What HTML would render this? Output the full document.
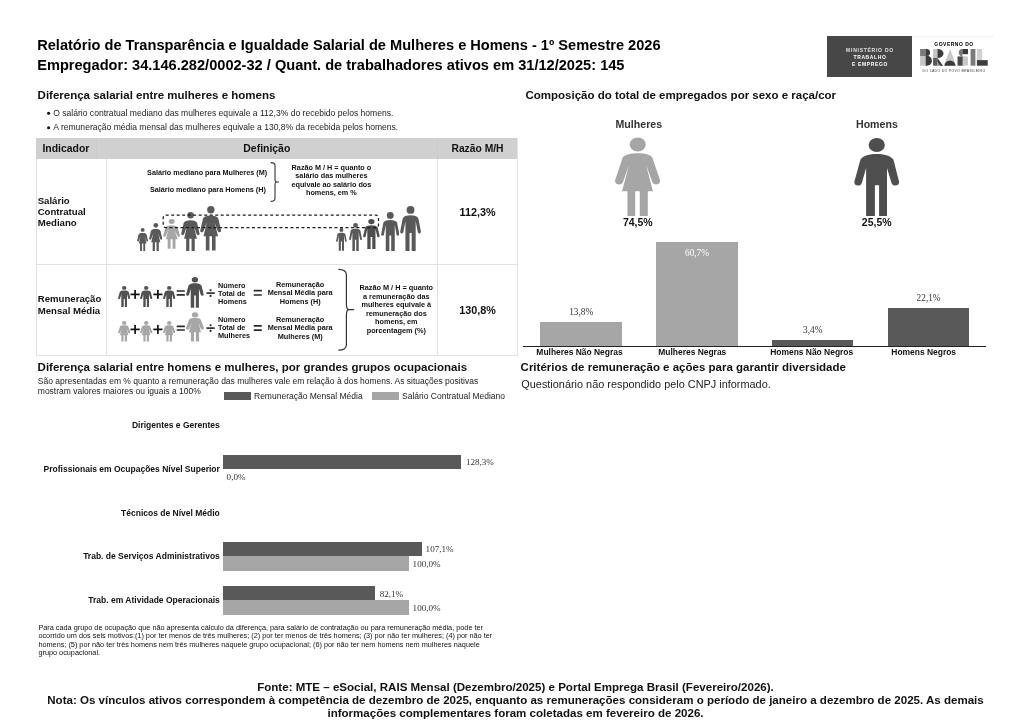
<!DOCTYPE html>
<html lang="pt-BR"><head><meta charset="utf-8"><title>Relatório de Transparência e Igualdade Salarial</title>
<style>
html,body{margin:0;padding:0;background:#fff;}
body{width:1024px;height:724px;position:relative;overflow:hidden;filter:grayscale(1);font-family:"Liberation Sans",Arial,sans-serif;}
.t{position:absolute;white-space:nowrap;}
.r{position:absolute;display:block;}
</style></head><body>
<div class="t" style="top:37.00px;font-size:14.6px;line-height:16.79px;font-weight:700;color:#000;font-family:'Liberation Sans', Arial, sans-serif;left:37.20px;">Relatório de Transparência e Igualdade Salarial de Mulheres e Homens - 1º Semestre 2026</div>
<div class="t" style="top:57.00px;font-size:14.6px;line-height:16.79px;font-weight:700;color:#000;font-family:'Liberation Sans', Arial, sans-serif;left:37.20px;">Empregador: 34.146.282/0002-32 / Quant. de trabalhadores ativos em 31/12/2025: 145</div>
<div class="r" style="left:827px;top:36px;width:85px;height:41px;background:#474747;"></div>
<div class="t" style="left:827px;top:47.1px;width:86px;text-align:center;color:#e0e0e0;font-size:5px;line-height:6.8px;letter-spacing:0.75px;font-weight:700">MINISTÉRIO DO</div>
<div class="t" style="left:827px;top:53.8px;width:86px;text-align:center;color:#fff;font-size:5px;line-height:6.8px;letter-spacing:0.62px;font-weight:700">TRABALHO</div>
<div class="t" style="left:827px;top:60.6px;width:86px;text-align:center;color:#fff;font-size:5px;line-height:6.8px;letter-spacing:0.62px;font-weight:700">E EMPREGO</div>
<div class="r" style="left:912px;top:36px;width:82px;height:1px;background:#f2f2f2;"></div>
<div class="t" style="left:913px;top:40.6px;width:82px;text-align:center;color:#000;font-size:5px;line-height:6.4px;letter-spacing:0.5px;font-weight:700">GOVERNO DO</div>
<svg class="r" style="left:916px;top:46px;width:76px;height:22px" viewBox="0 0 76 22">
<rect x="4.1" y="3" width="5.6" height="7" fill="#7a7a7a"/>
<rect x="4.1" y="10" width="5.6" height="9.7" fill="#c4c4c4"/>
<path d="M9.6 3H10.6A3.5 3.5 0 0 1 10.6 10H9.6Z" fill="#3a3a3a"/>
<path d="M9.6 9.7H11A4.9 5 0 0 1 11 19.7H9.6Z" fill="#3a3a3a"/>
<rect x="17.1" y="3" width="4.4" height="9" fill="#c4c4c4"/>
<path d="M21.5 3A6 4.6 0 0 1 27.5 7.6A6 4.6 0 0 1 21.5 12.2Z" fill="#3a3a3a"/>
<rect x="17.1" y="12" width="4.4" height="7.7" fill="#5a5a5a"/>
<path d="M21.5 12.2L26.9 19.7H21.5Z" fill="#8a8a8a"/>
<path d="M21.5 12.2L26.9 19.7H24.5L21.5 15.5Z" fill="#3a3a3a"/>
<path d="M27.5 19.7L34.2 3L40.1 19.7Z" fill="#c8c8c8"/>
<path d="M28.6 19.7A5.4 5.2 0 0 1 39.4 19.7Z" fill="#3a3a3a"/>
<path d="M46.4 3V10.2A3.6 3.6 0 0 1 46.4 3Z" fill="#7a7a7a"/>
<rect x="46.4" y="3" width="5.6" height="5.2" fill="#3a3a3a"/>
<path d="M41.5 10.4H46.9V19.7H41.5Z" fill="#4a4a4a"/>
<path d="M46.9 10.4A5 4.65 0 0 1 46.9 19.7Z" fill="#c8c8c8"/>
<rect x="46.9" y="10.4" width="5.1" height="9.3" fill="#cfcfcf"/>
<path d="M46.9 10.4A5 4.65 0 0 1 46.9 19.7Z" fill="#c8c8c8"/>
<rect x="54.6" y="3" width="4.8" height="16.7" fill="#7a7a7a"/>
<rect x="60.9" y="3" width="5.2" height="11.1" fill="#d0d0d0"/>
<rect x="60.9" y="14.1" width="10.8" height="5.6" fill="#3c3c3c"/>
</svg>
<div class="t" style="left:913px;top:68.6px;width:82px;text-align:center;color:#444;font-size:3.5px;line-height:5px;letter-spacing:0.3px;font-weight:400">DO LADO DO POVO BRASILEIRO</div>
<div class="t" style="top:89.00px;font-size:11.5px;line-height:13.225px;font-weight:700;color:#111;font-family:'Liberation Sans', Arial, sans-serif;left:37.60px;">Diferença salarial entre mulheres e homens</div>
<svg class="r" style="left:40px;top:105px" width="20" height="30"><circle cx="8.6" cy="8.3" r="1.55" fill="#111"/><circle cx="8.6" cy="22.7" r="1.55" fill="#111"/></svg>
<div class="t" style="top:109.00px;font-size:8.55px;line-height:9.8325px;font-weight:400;color:#222;font-family:'Liberation Sans', Arial, sans-serif;left:53.30px;">O salário contratual mediano das mulheres equivale a 112,3% do recebido pelos homens.</div>
<div class="t" style="top:123.00px;font-size:8.55px;line-height:9.8325px;font-weight:400;color:#222;font-family:'Liberation Sans', Arial, sans-serif;left:53.30px;">A remuneração média mensal das mulheres equivale a 130,8% da recebida pelos homens.</div>
<div class="r" style="left:36px;top:138px;width:481.5px;height:20.8px;background:#d0d0d0;"></div>
<div class="r" style="left:96px;top:138px;width:0.8px;height:20.8px;background:#cbcbcb;"></div>
<div class="r" style="left:437.2px;top:138px;width:0.8px;height:20.8px;background:#cbcbcb;"></div>
<div class="r" style="left:35.6px;top:158.8px;width:1px;height:197px;background:#e2e2e2;"></div>
<div class="r" style="left:516.8px;top:138px;width:1px;height:217.8px;background:#e2e2e2;"></div>
<div class="r" style="left:105.6px;top:158.8px;width:1px;height:197px;background:#e2e2e2;"></div>
<div class="r" style="left:437.2px;top:158.8px;width:1px;height:197px;background:#e2e2e2;"></div>
<div class="r" style="left:35.6px;top:264.1px;width:482px;height:1px;background:#e2e2e2;"></div>
<div class="r" style="left:35.6px;top:354.9px;width:482px;height:1px;background:#e2e2e2;"></div>
<div class="t" style="top:143.00px;font-size:10.45px;line-height:12.017499999999998px;font-weight:700;color:#111;font-family:'Liberation Sans', Arial, sans-serif;left:42.40px;">Indicador</div>
<div class="t" style="top:143.00px;font-size:10.45px;line-height:12.017499999999998px;font-weight:700;color:#111;font-family:'Liberation Sans', Arial, sans-serif;left:-33.20px;width:600px;text-align:center;">Definição</div>
<div class="t" style="top:143.00px;font-size:10.3px;line-height:11.845px;font-weight:700;color:#111;font-family:'Liberation Sans', Arial, sans-serif;left:177.50px;width:600px;text-align:center;">Razão M/H</div>
<div class="t" style="top:195.00px;font-size:9.6px;line-height:11.2px;font-weight:700;color:#111;font-family:'Liberation Sans', Arial, sans-serif;left:37.70px;">Salário<br>Contratual<br>Mediano</div>
<div class="t" style="top:293.00px;font-size:9.6px;line-height:11.5px;font-weight:700;color:#111;font-family:'Liberation Sans', Arial, sans-serif;left:37.80px;">Remuneração<br>Mensal Média</div>
<div class="t" style="top:206.00px;font-size:10.8px;line-height:12.42px;font-weight:700;color:#111;font-family:'Liberation Sans', Arial, sans-serif;left:177.60px;width:600px;text-align:center;">112,3%</div>
<div class="t" style="top:304.00px;font-size:10.8px;line-height:12.42px;font-weight:700;color:#111;font-family:'Liberation Sans', Arial, sans-serif;left:177.60px;width:600px;text-align:center;">130,8%</div>
<div class="t" style="top:169.00px;font-size:7.25px;line-height:8.337499999999999px;font-weight:700;color:#111;font-family:'Liberation Sans', Arial, sans-serif;left:-92.90px;width:600px;text-align:center;">Salário mediano para Mulheres (M)</div>
<div class="t" style="top:186.00px;font-size:7.25px;line-height:8.337499999999999px;font-weight:700;color:#111;font-family:'Liberation Sans', Arial, sans-serif;left:-92.10px;width:600px;text-align:center;">Salário mediano para Homens (H)</div>
<svg class="r" style="left:268px;top:160px;width:14px;height:45px" viewBox="0 0 14 45"><path d="M2.6 2.6Q7 2.6 7 5.5V19Q7 22 8.5 22H11M8.5 22Q7 22 7 25V38.5Q7 41.4 2.6 41.4" fill="none" stroke="#333" stroke-width="1.1"/></svg>
<div class="t" style="top:164.00px;font-size:7.25px;line-height:8.4px;font-weight:700;color:#111;font-family:'Liberation Sans', Arial, sans-serif;left:31.40px;width:600px;text-align:center;">Razão M / H = quanto o<br>salário das mulheres<br>equivale ao salário dos<br>homens, em %</div>
<svg class="r" style="left:136.60px;top:228.10px;width:11.20px;height:22.90px" viewBox="0 0 21.2 44.4" preserveAspectRatio="none"><g fill="#595959"><circle cx="10.8" cy="3.7" r="3.7"/><path d="M3.5 30.3L6.8 16L3.6 25Q3.2 26.4 1.8 26.3Q-0.1 26 0.3 24.3L3 12.5C3.8 10.4 6.8 9.5 10.6 9.5C14.4 9.5 17.4 10.4 18.2 12.5L20.9 24.3Q21.3 26 19.4 26.3Q18 26.4 17.6 25L14.4 16L18 30.3H15.5V44.4H11.9V30.3H9.4V44.4H5.8V30.3Z"/></g></svg>
<svg class="r" style="left:149.00px;top:222.80px;width:13.40px;height:28.20px" viewBox="0 0 21.2 44.4" preserveAspectRatio="none"><g fill="#595959"><circle cx="10.8" cy="3.7" r="3.7"/><path d="M3.5 30.3L6.8 16L3.6 25Q3.2 26.4 1.8 26.3Q-0.1 26 0.3 24.3L3 12.5C3.8 10.4 6.8 9.5 10.6 9.5C14.4 9.5 17.4 10.4 18.2 12.5L20.9 24.3Q21.3 26 19.4 26.3Q18 26.4 17.6 25L14.4 16L18 30.3H15.5V44.4H11.9V30.3H9.4V44.4H5.8V30.3Z"/></g></svg>
<svg class="r" style="left:163.20px;top:218.75px;width:17.10px;height:29.85px" viewBox="0 0 21.2 44.4" preserveAspectRatio="none"><g fill="#a6a6a6"><circle cx="10.8" cy="3.7" r="3.7"/><path d="M3.5 30.3L6.8 16L3.6 25Q3.2 26.4 1.8 26.3Q-0.1 26 0.3 24.3L3 12.5C3.8 10.4 6.8 9.5 10.6 9.5C14.4 9.5 17.4 10.4 18.2 12.5L20.9 24.3Q21.3 26 19.4 26.3Q18 26.4 17.6 25L14.4 16L18 30.3H15.5V44.4H11.9V30.3H9.4V44.4H5.8V30.3Z"/></g></svg>
<svg class="r" style="left:181.00px;top:211.90px;width:18.80px;height:39.10px" viewBox="0 0 21.2 44.4" preserveAspectRatio="none"><g fill="#595959"><circle cx="10.8" cy="3.7" r="3.7"/><path d="M3.5 30.3L6.8 16L3.6 25Q3.2 26.4 1.8 26.3Q-0.1 26 0.3 24.3L3 12.5C3.8 10.4 6.8 9.5 10.6 9.5C14.4 9.5 17.4 10.4 18.2 12.5L20.9 24.3Q21.3 26 19.4 26.3Q18 26.4 17.6 25L14.4 16L18 30.3H15.5V44.4H11.9V30.3H9.4V44.4H5.8V30.3Z"/></g></svg>
<svg class="r" style="left:200.40px;top:206.40px;width:21.30px;height:44.50px" viewBox="0 0 21.2 44.4" preserveAspectRatio="none"><g fill="#595959"><circle cx="10.8" cy="3.7" r="3.7"/><path d="M3.5 30.3L6.8 16L3.6 25Q3.2 26.4 1.8 26.3Q-0.1 26 0.3 24.3L3 12.5C3.8 10.4 6.8 9.5 10.6 9.5C14.4 9.5 17.4 10.4 18.2 12.5L20.9 24.3Q21.3 26 19.4 26.3Q18 26.4 17.6 25L14.4 16L18 30.3H15.5V44.4H11.9V30.3H9.4V44.4H5.8V30.3Z"/></g></svg>
<svg class="r" style="left:336.30px;top:228.30px;width:10.80px;height:22.70px" viewBox="0 0 21.0 45.0" preserveAspectRatio="none"><g fill="#595959"><circle cx="10.5" cy="3.9" r="3.9"/><path d="M5.4 45V15L3.3 26.3Q3 27.5 1.7 27.4Q0 27.2 0.2 25.6L2.7 12.4C3.6 10.3 6.5 9.3 10.5 9.3C14.5 9.3 17.4 10.3 18.3 12.4L20.8 25.6Q21 27.2 19.3 27.4Q18 27.5 17.7 26.3L15.6 15V45H11.6V27H9.5V45Z"/></g></svg>
<svg class="r" style="left:348.60px;top:223.00px;width:13.10px;height:28.00px" viewBox="0 0 21.0 45.0" preserveAspectRatio="none"><g fill="#595959"><circle cx="10.5" cy="3.9" r="3.9"/><path d="M5.4 45V15L3.3 26.3Q3 27.5 1.7 27.4Q0 27.2 0.2 25.6L2.7 12.4C3.6 10.3 6.5 9.3 10.5 9.3C14.5 9.3 17.4 10.3 18.3 12.4L20.8 25.6Q21 27.2 19.3 27.4Q18 27.5 17.7 26.3L15.6 15V45H11.6V27H9.5V45Z"/></g></svg>
<svg class="r" style="left:363.00px;top:218.75px;width:16.80px;height:30.05px" viewBox="0 0 21.0 45.0" preserveAspectRatio="none"><g fill="#4e4e4e"><circle cx="10.5" cy="3.9" r="3.9"/><path d="M5.4 45V15L3.3 26.3Q3 27.5 1.7 27.4Q0 27.2 0.2 25.6L2.7 12.4C3.6 10.3 6.5 9.3 10.5 9.3C14.5 9.3 17.4 10.3 18.3 12.4L20.8 25.6Q21 27.2 19.3 27.4Q18 27.5 17.7 26.3L15.6 15V45H11.6V27H9.5V45Z"/></g></svg>
<svg class="r" style="left:380.80px;top:212.00px;width:18.50px;height:39.00px" viewBox="0 0 21.0 45.0" preserveAspectRatio="none"><g fill="#595959"><circle cx="10.5" cy="3.9" r="3.9"/><path d="M5.4 45V15L3.3 26.3Q3 27.5 1.7 27.4Q0 27.2 0.2 25.6L2.7 12.4C3.6 10.3 6.5 9.3 10.5 9.3C14.5 9.3 17.4 10.3 18.3 12.4L20.8 25.6Q21 27.2 19.3 27.4Q18 27.5 17.7 26.3L15.6 15V45H11.6V27H9.5V45Z"/></g></svg>
<svg class="r" style="left:400.10px;top:206.20px;width:21.10px;height:45.00px" viewBox="0 0 21.0 45.0" preserveAspectRatio="none"><g fill="#595959"><circle cx="10.5" cy="3.9" r="3.9"/><path d="M5.4 45V15L3.3 26.3Q3 27.5 1.7 27.4Q0 27.2 0.2 25.6L2.7 12.4C3.6 10.3 6.5 9.3 10.5 9.3C14.5 9.3 17.4 10.3 18.3 12.4L20.8 25.6Q21 27.2 19.3 27.4Q18 27.5 17.7 26.3L15.6 15V45H11.6V27H9.5V45Z"/></g></svg>
<svg class="r" style="left:160px;top:212px;width:222px;height:19px" viewBox="0 0 222 19"><rect x="3.2" y="3.1" width="215.3" height="12.5" rx="2.5" fill="none" stroke="#1c1c1c" stroke-width="1.25" stroke-dasharray="3 2.5"/></svg>
<svg class="r" style="left:117.50px;top:285.50px;width:12.40px;height:21.50px" viewBox="0 0 45.4 78.1" preserveAspectRatio="none"><g fill="#525252"><ellipse cx="22.75" cy="7.0" rx="8.1" ry="7.0"/><path d="M12.1 78.1V30.1L8 44.5Q7.2 47.6 4.2 47.6Q0 47.4 0.4 43.6L6.4 21.7C9 17.5 16 16 22.75 16C29.5 16 36.5 17.5 39.5 21.7L45 43.6Q45.4 47.4 41.2 47.6Q38.2 47.6 37.4 44.5L33 30.1V78.1H25.1V47.2H20.9V78.1Z"/></g></svg>
<svg class="r" style="left:140.40px;top:285.50px;width:12.40px;height:21.50px" viewBox="0 0 45.4 78.1" preserveAspectRatio="none"><g fill="#525252"><ellipse cx="22.75" cy="7.0" rx="8.1" ry="7.0"/><path d="M12.1 78.1V30.1L8 44.5Q7.2 47.6 4.2 47.6Q0 47.4 0.4 43.6L6.4 21.7C9 17.5 16 16 22.75 16C29.5 16 36.5 17.5 39.5 21.7L45 43.6Q45.4 47.4 41.2 47.6Q38.2 47.6 37.4 44.5L33 30.1V78.1H25.1V47.2H20.9V78.1Z"/></g></svg>
<svg class="r" style="left:163.00px;top:285.50px;width:12.40px;height:21.50px" viewBox="0 0 45.4 78.1" preserveAspectRatio="none"><g fill="#525252"><ellipse cx="22.75" cy="7.0" rx="8.1" ry="7.0"/><path d="M12.1 78.1V30.1L8 44.5Q7.2 47.6 4.2 47.6Q0 47.4 0.4 43.6L6.4 21.7C9 17.5 16 16 22.75 16C29.5 16 36.5 17.5 39.5 21.7L45 43.6Q45.4 47.4 41.2 47.6Q38.2 47.6 37.4 44.5L33 30.1V78.1H25.1V47.2H20.9V78.1Z"/></g></svg>
<svg class="r" style="left:185.90px;top:277.00px;width:17.80px;height:30.70px" viewBox="0 0 45.4 78.1" preserveAspectRatio="none"><g fill="#505050"><ellipse cx="22.75" cy="7.0" rx="8.1" ry="7.0"/><path d="M12.1 78.1V30.1L8 44.5Q7.2 47.6 4.2 47.6Q0 47.4 0.4 43.6L6.4 21.7C9 17.5 16 16 22.75 16C29.5 16 36.5 17.5 39.5 21.7L45 43.6Q45.4 47.4 41.2 47.6Q38.2 47.6 37.4 44.5L33 30.1V78.1H25.1V47.2H20.9V78.1Z"/></g></svg>
<div class="t" style="top:282.00px;font-size:7.3px;line-height:8.2px;font-weight:700;color:#111;font-family:'Liberation Sans', Arial, sans-serif;left:218.00px;">Número<br>Total de<br>Homens</div>
<div class="t" style="top:281.00px;font-size:7.3px;line-height:8.3px;font-weight:700;color:#111;font-family:'Liberation Sans', Arial, sans-serif;left:0.20px;width:600px;text-align:center;">Remuneração<br>Mensal Média para<br>Homens (H)</div>
<svg class="r" style="left:117.50px;top:321.00px;width:12.40px;height:20.60px" viewBox="0 0 45.3 78.9" preserveAspectRatio="none"><g fill="#a6a6a6"><ellipse cx="22.75" cy="7.45" rx="8.05" ry="7.05"/><path d="M7 54.3L14.2 27.4L8.2 44.5Q7.3 47.4 4.2 47.4Q-0.2 47.2 0 43.6L7.8 20.3C10.5 17.3 16 16.2 22.75 16.2C29.5 16.2 35 17.3 37.2 20.3L45.2 43.6Q45.4 47.2 41.1 47.4Q38 47.4 37.1 44.5L31 27.4L37.9 54.3H32.8V78.9H24.8V54.3H20.2V78.9H12.4V54.3Z"/></g></svg>
<svg class="r" style="left:140.40px;top:321.00px;width:12.40px;height:20.60px" viewBox="0 0 45.3 78.9" preserveAspectRatio="none"><g fill="#a6a6a6"><ellipse cx="22.75" cy="7.45" rx="8.05" ry="7.05"/><path d="M7 54.3L14.2 27.4L8.2 44.5Q7.3 47.4 4.2 47.4Q-0.2 47.2 0 43.6L7.8 20.3C10.5 17.3 16 16.2 22.75 16.2C29.5 16.2 35 17.3 37.2 20.3L45.2 43.6Q45.4 47.2 41.1 47.4Q38 47.4 37.1 44.5L31 27.4L37.9 54.3H32.8V78.9H24.8V54.3H20.2V78.9H12.4V54.3Z"/></g></svg>
<svg class="r" style="left:163.00px;top:321.00px;width:12.40px;height:20.60px" viewBox="0 0 45.3 78.9" preserveAspectRatio="none"><g fill="#a6a6a6"><ellipse cx="22.75" cy="7.45" rx="8.05" ry="7.05"/><path d="M7 54.3L14.2 27.4L8.2 44.5Q7.3 47.4 4.2 47.4Q-0.2 47.2 0 43.6L7.8 20.3C10.5 17.3 16 16.2 22.75 16.2C29.5 16.2 35 17.3 37.2 20.3L45.2 43.6Q45.4 47.2 41.1 47.4Q38 47.4 37.1 44.5L31 27.4L37.9 54.3H32.8V78.9H24.8V54.3H20.2V78.9H12.4V54.3Z"/></g></svg>
<svg class="r" style="left:185.60px;top:312.20px;width:18.00px;height:29.40px" viewBox="0 0 45.3 78.9" preserveAspectRatio="none"><g fill="#a6a6a6"><ellipse cx="22.75" cy="7.45" rx="8.05" ry="7.05"/><path d="M7 54.3L14.2 27.4L8.2 44.5Q7.3 47.4 4.2 47.4Q-0.2 47.2 0 43.6L7.8 20.3C10.5 17.3 16 16.2 22.75 16.2C29.5 16.2 35 17.3 37.2 20.3L45.2 43.6Q45.4 47.2 41.1 47.4Q38 47.4 37.1 44.5L31 27.4L37.9 54.3H32.8V78.9H24.8V54.3H20.2V78.9H12.4V54.3Z"/></g></svg>
<div class="t" style="top:316.00px;font-size:7.3px;line-height:8.2px;font-weight:700;color:#111;font-family:'Liberation Sans', Arial, sans-serif;left:218.00px;">Número<br>Total de<br>Mulheres</div>
<div class="t" style="top:316.00px;font-size:7.3px;line-height:8.3px;font-weight:700;color:#111;font-family:'Liberation Sans', Arial, sans-serif;left:0.20px;width:600px;text-align:center;">Remuneração<br>Mensal Média para<br>Mulheres (M)</div>
<svg class="r" style="left:0;top:0" width="1024" height="724" viewBox="0 0 1024 724"><rect x="130.50" y="293.55" width="9.2" height="1.7" fill="#111"/><rect x="134.25" y="289.90" width="1.7" height="9.0" fill="#111"/><rect x="153.30" y="293.55" width="9.2" height="1.7" fill="#111"/><rect x="157.05" y="289.90" width="1.7" height="9.0" fill="#111"/><rect x="176.60" y="290.15" width="8.30" height="1.7" rx="0.5" fill="#2a2a2a"/><rect x="176.60" y="293.95" width="8.30" height="1.7" rx="0.5" fill="#2a2a2a"/><rect x="206.45" y="292.30" width="8.3" height="1.6" fill="#222"/><circle cx="210.60" cy="290.30" r="1.05" fill="#222"/><circle cx="210.60" cy="295.90" r="1.05" fill="#222"/><rect x="253.70" y="289.85" width="8.20" height="1.7" rx="0.5" fill="#2a2a2a"/><rect x="253.70" y="294.15" width="8.20" height="1.7" rx="0.5" fill="#2a2a2a"/><rect x="130.50" y="328.55" width="9.2" height="1.7" fill="#111"/><rect x="134.25" y="324.90" width="1.7" height="9.0" fill="#111"/><rect x="153.30" y="328.55" width="9.2" height="1.7" fill="#111"/><rect x="157.05" y="324.90" width="1.7" height="9.0" fill="#111"/><rect x="176.60" y="325.45" width="8.30" height="1.7" rx="0.5" fill="#2a2a2a"/><rect x="176.60" y="329.15" width="8.30" height="1.7" rx="0.5" fill="#2a2a2a"/><rect x="206.45" y="327.30" width="8.3" height="1.6" fill="#222"/><circle cx="210.60" cy="325.30" r="1.05" fill="#222"/><circle cx="210.60" cy="330.90" r="1.05" fill="#222"/><rect x="253.70" y="324.95" width="8.20" height="1.7" rx="0.5" fill="#2a2a2a"/><rect x="253.70" y="329.25" width="8.20" height="1.7" rx="0.5" fill="#2a2a2a"/></svg>
<svg class="r" style="left:336px;top:266px;width:22px;height:88px" viewBox="0 0 22 88"><path d="M2.4 3.4Q10.4 3.4 10.4 9V38Q10.4 43.7 13 43.7H18.2M13 43.7Q10.4 43.7 10.4 49.4V78.4Q10.4 84.2 2.4 84.2" fill="none" stroke="#333" stroke-width="1.2"/></svg>
<div class="t" style="top:284.00px;font-size:7.3px;line-height:8.5px;font-weight:700;color:#111;font-family:'Liberation Sans', Arial, sans-serif;left:96.30px;width:600px;text-align:center;">Razão M / H = quanto<br>a remuneração das<br>mulheres equivale à<br>remuneração dos<br>homens, em<br>porcentagem (%)</div>
<div class="t" style="top:89.00px;font-size:11.5px;line-height:13.225px;font-weight:700;color:#111;font-family:'Liberation Sans', Arial, sans-serif;left:525.50px;">Composição do total de empregados por sexo e raça/cor</div>
<div class="t" style="top:118.00px;font-size:10.6px;line-height:12.19px;font-weight:700;color:#333;font-family:'Liberation Sans', Arial, sans-serif;left:338.80px;width:600px;text-align:center;">Mulheres</div>
<div class="t" style="top:118.00px;font-size:10.6px;line-height:12.19px;font-weight:700;color:#333;font-family:'Liberation Sans', Arial, sans-serif;left:576.90px;width:600px;text-align:center;">Homens</div>
<svg class="r" style="left:615.20px;top:137.30px;width:45.30px;height:78.90px" viewBox="0 0 45.3 78.9" preserveAspectRatio="none"><g fill="#a6a6a6"><ellipse cx="22.75" cy="7.45" rx="8.05" ry="7.05"/><path d="M7 54.3L14.2 27.4L8.2 44.5Q7.3 47.4 4.2 47.4Q-0.2 47.2 0 43.6L7.8 20.3C10.5 17.3 16 16.2 22.75 16.2C29.5 16.2 35 17.3 37.2 20.3L45.2 43.6Q45.4 47.2 41.1 47.4Q38 47.4 37.1 44.5L31 27.4L37.9 54.3H32.8V78.9H24.8V54.3H20.2V78.9H12.4V54.3Z"/></g></svg>
<svg class="r" style="left:854.20px;top:137.60px;width:45.40px;height:78.10px" viewBox="0 0 45.4 78.1" preserveAspectRatio="none"><g fill="#4e4e4e"><ellipse cx="22.75" cy="7.0" rx="8.1" ry="7.0"/><path d="M12.1 78.1V30.1L8 44.5Q7.2 47.6 4.2 47.6Q0 47.4 0.4 43.6L6.4 21.7C9 17.5 16 16 22.75 16C29.5 16 36.5 17.5 39.5 21.7L45 43.6Q45.4 47.4 41.2 47.6Q38.2 47.6 37.4 44.5L33 30.1V78.1H25.1V47.2H20.9V78.1Z"/></g></svg>
<div class="t" style="top:216.00px;font-size:10.5px;line-height:12.075px;font-weight:700;color:#111;font-family:'Liberation Sans', Arial, sans-serif;left:337.80px;width:600px;text-align:center;">74,5%</div>
<div class="t" style="top:216.00px;font-size:10.5px;line-height:12.075px;font-weight:700;color:#111;font-family:'Liberation Sans', Arial, sans-serif;left:576.70px;width:600px;text-align:center;">25,5%</div>
<div class="r" style="left:540.3px;top:322.0px;width:81.7px;height:24.3px;background:#a6a6a6;"></div>
<div class="r" style="left:656.4px;top:242.0px;width:81.2px;height:104.3px;background:#a6a6a6;"></div>
<div class="r" style="left:772.2px;top:339.7px;width:81.2px;height:6.6px;background:#595959;"></div>
<div class="r" style="left:888.2px;top:307.7px;width:80.8px;height:38.6px;background:#595959;"></div>
<div class="r" style="left:523px;top:345.8px;width:463px;height:1.3px;background:#222;"></div>
<div class="t" style="top:307.00px;font-size:9.3px;line-height:10.695px;font-weight:400;color:#333;font-family:'Liberation Serif', 'Times New Roman', serif;left:281.20px;width:600px;text-align:center;">13,8%</div>
<div class="t" style="top:248.00px;font-size:9.3px;line-height:10.695px;font-weight:400;color:#fff;font-family:'Liberation Serif', 'Times New Roman', serif;left:397.00px;width:600px;text-align:center;">60,7%</div>
<div class="t" style="top:325.00px;font-size:9.3px;line-height:10.695px;font-weight:400;color:#333;font-family:'Liberation Serif', 'Times New Roman', serif;left:512.80px;width:600px;text-align:center;">3,4%</div>
<div class="t" style="top:293.00px;font-size:9.3px;line-height:10.695px;font-weight:400;color:#333;font-family:'Liberation Serif', 'Times New Roman', serif;left:628.60px;width:600px;text-align:center;">22,1%</div>
<div class="t" style="top:348.00px;font-size:8.45px;line-height:9.717499999999998px;font-weight:700;color:#111;font-family:'Liberation Sans', Arial, sans-serif;left:279.50px;width:600px;text-align:center;">Mulheres Não Negras</div>
<div class="t" style="top:348.00px;font-size:8.45px;line-height:9.717499999999998px;font-weight:700;color:#111;font-family:'Liberation Sans', Arial, sans-serif;left:392.30px;width:600px;text-align:center;">Mulheres Negras</div>
<div class="t" style="top:348.00px;font-size:8.45px;line-height:9.717499999999998px;font-weight:700;color:#111;font-family:'Liberation Sans', Arial, sans-serif;left:511.70px;width:600px;text-align:center;">Homens Não Negros</div>
<div class="t" style="top:348.00px;font-size:8.45px;line-height:9.717499999999998px;font-weight:700;color:#111;font-family:'Liberation Sans', Arial, sans-serif;left:623.70px;width:600px;text-align:center;">Homens Negros</div>
<div class="t" style="top:361.00px;font-size:11.5px;line-height:13.225px;font-weight:700;color:#111;font-family:'Liberation Sans', Arial, sans-serif;left:520.60px;">Critérios de remuneração e ações para garantir diversidade</div>
<div class="t" style="top:378.00px;font-size:10.9px;line-height:12.535px;font-weight:400;color:#222;font-family:'Liberation Sans', Arial, sans-serif;left:521.30px;">Questionário não respondido pelo CNPJ informado.</div>
<div class="t" style="top:361.00px;font-size:11.5px;line-height:13.225px;font-weight:700;color:#111;font-family:'Liberation Sans', Arial, sans-serif;left:37.60px;">Diferença salarial entre homens e mulheres, por grandes grupos ocupacionais</div>
<div class="t" style="top:377.00px;font-size:8.5px;line-height:9.8px;font-weight:400;color:#1a1a1a;font-family:'Liberation Sans', Arial, sans-serif;left:37.80px;">São apresentadas em % quanto a remuneração das mulheres vale em relação à dos homens. As situações positivas<br>mostram valores maiores ou iguais a 100%</div>
<div class="r" style="left:223.8px;top:391.7px;width:26.9px;height:8.5px;background:#595959;"></div>
<div class="t" style="top:392.00px;font-size:8.5px;line-height:9.774999999999999px;font-weight:400;color:#222;font-family:'Liberation Sans', Arial, sans-serif;left:254.00px;">Remuneração Mensal Média</div>
<div class="r" style="left:371.7px;top:391.7px;width:27.3px;height:8.5px;background:#a6a6a6;"></div>
<div class="t" style="top:392.00px;font-size:8.5px;line-height:9.774999999999999px;font-weight:400;color:#222;font-family:'Liberation Sans', Arial, sans-serif;left:402.00px;">Salário Contratual Mediano</div>
<div class="t" style="top:421.00px;font-size:8.5px;line-height:9.774999999999999px;font-weight:700;color:#111;font-family:'Liberation Sans', Arial, sans-serif;left:-380.20px;width:600px;text-align:right;">Dirigentes e Gerentes</div>
<div class="t" style="top:465.00px;font-size:8.5px;line-height:9.774999999999999px;font-weight:700;color:#111;font-family:'Liberation Sans', Arial, sans-serif;left:-380.20px;width:600px;text-align:right;">Profissionais em Ocupações Nível Superior</div>
<div class="t" style="top:509.00px;font-size:8.5px;line-height:9.774999999999999px;font-weight:700;color:#111;font-family:'Liberation Sans', Arial, sans-serif;left:-380.20px;width:600px;text-align:right;">Técnicos de Nível Médio</div>
<div class="t" style="top:552.00px;font-size:8.5px;line-height:9.774999999999999px;font-weight:700;color:#111;font-family:'Liberation Sans', Arial, sans-serif;left:-380.20px;width:600px;text-align:right;">Trab. de Serviços Administrativos</div>
<div class="t" style="top:596.00px;font-size:8.5px;line-height:9.774999999999999px;font-weight:700;color:#111;font-family:'Liberation Sans', Arial, sans-serif;left:-380.20px;width:600px;text-align:right;">Trab. em Atividade Operacionais</div>
<div class="r" style="left:222.5px;top:454.9px;width:238.96px;height:14.6px;background:#595959;"></div>
<div class="t" style="top:457.00px;font-size:9.1px;line-height:10.464999999999998px;font-weight:400;color:#333;font-family:'Liberation Serif', 'Times New Roman', serif;left:465.90px;">128,3%</div>
<div class="t" style="top:472.00px;font-size:9.1px;line-height:10.464999999999998px;font-weight:400;color:#333;font-family:'Liberation Serif', 'Times New Roman', serif;left:226.60px;">0,0%</div>
<div class="r" style="left:222.5px;top:541.9px;width:199.47px;height:14.6px;background:#595959;"></div>
<div class="r" style="left:222.5px;top:556.3px;width:186.25px;height:14.6px;background:#a6a6a6;"></div>
<div class="t" style="top:544.00px;font-size:9.1px;line-height:10.464999999999998px;font-weight:400;color:#333;font-family:'Liberation Serif', 'Times New Roman', serif;left:425.60px;">107,1%</div>
<div class="t" style="top:559.00px;font-size:9.1px;line-height:10.464999999999998px;font-weight:400;color:#333;font-family:'Liberation Serif', 'Times New Roman', serif;left:412.60px;">100,0%</div>
<div class="r" style="left:222.5px;top:585.6px;width:152.91px;height:14.6px;background:#595959;"></div>
<div class="r" style="left:222.5px;top:600.0px;width:186.25px;height:14.6px;background:#a6a6a6;"></div>
<div class="t" style="top:589.00px;font-size:9.1px;line-height:10.464999999999998px;font-weight:400;color:#333;font-family:'Liberation Serif', 'Times New Roman', serif;left:379.70px;">82,1%</div>
<div class="t" style="top:603.00px;font-size:9.1px;line-height:10.464999999999998px;font-weight:400;color:#333;font-family:'Liberation Serif', 'Times New Roman', serif;left:412.60px;">100,0%</div>
<div class="t" style="top:624.00px;font-size:7.31px;line-height:8.4px;font-weight:400;color:#111;font-family:'Liberation Sans', Arial, sans-serif;left:38.40px;">Para cada grupo de ocupação que não apresenta cálculo da diferença, para salário de contratação ou para remuneração média, pode ter<br>ocorrido um dos seis motivos:(1) por ter menos de três mulheres; (2) por ter menos de três homens; (3) por não ter mulheres; (4) por não ter<br>homens; (5) por não ter três homens nem três mulheres naquele grupo ocupacional; (6) por não ter nem homens nem mulheres naquele<br>grupo ocupacional.</div>
<div class="t" style="top:681.00px;font-size:11.55px;line-height:13.2825px;font-weight:700;color:#111;font-family:'Liberation Sans', Arial, sans-serif;left:15.50px;width:1000px;text-align:center;">Fonte: MTE – eSocial, RAIS Mensal (Dezembro/2025) e Portal Emprega Brasil (Fevereiro/2026).</div>
<div class="t" style="top:694.00px;font-size:11.55px;line-height:13.2825px;font-weight:700;color:#111;font-family:'Liberation Sans', Arial, sans-serif;left:15.50px;width:1000px;text-align:center;">Nota: Os vínculos ativos correspondem à competência de dezembro de 2025, enquanto as remunerações consideram o período de janeiro a dezembro de 2025. As demais</div>
<div class="t" style="top:707.00px;font-size:11.55px;line-height:13.2825px;font-weight:700;color:#111;font-family:'Liberation Sans', Arial, sans-serif;left:15.50px;width:1000px;text-align:center;">informações complementares foram coletadas em fevereiro de 2026.</div>
</body></html>
